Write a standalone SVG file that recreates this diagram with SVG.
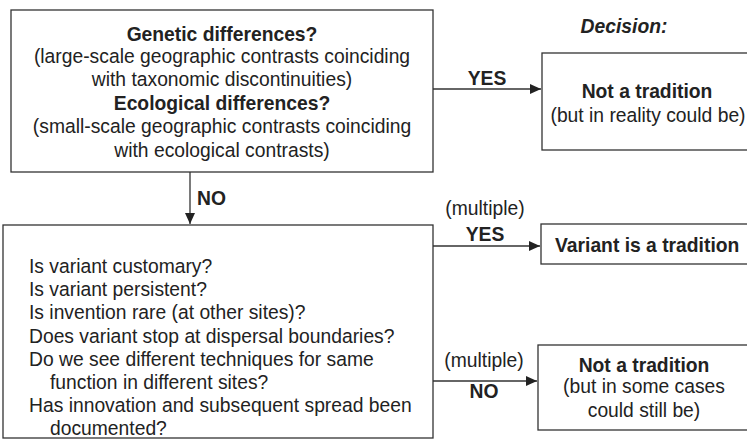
<svg xmlns="http://www.w3.org/2000/svg" width="747" height="440" viewBox="0 0 747 440">
<style>
  .box { fill: #fff; stroke: #333; stroke-width: 1.3; }
  .t { font-family: "Liberation Sans", Arial, sans-serif; font-size: 19.3px; fill: #222; }
  .b { font-weight: bold; }
  .c { text-anchor: middle; }
  .edge { stroke: #333; stroke-width: 1.3; fill: none; }
</style>
<defs>
  <marker id="arr" markerWidth="12" markerHeight="10" refX="11" refY="5" orient="auto" markerUnits="userSpaceOnUse">
    <path d="M0,0 L11,5 L0,10 Z" fill="#222"/>
  </marker>
</defs>
<rect width="747" height="440" fill="#fff"/>

<text class="t b" x="624" y="33" text-anchor="middle" font-style="italic">Decision:</text>

<g id="connectors">
  <line class="edge" x1="433" y1="89" x2="541" y2="89" marker-end="url(#arr)"/>
  <text class="t b c" x="487" y="85">YES</text>
  <line class="edge" x1="190" y1="172" x2="190" y2="224" marker-end="url(#arr)"/>
  <text class="t b" x="197" y="205">NO</text>
  <line class="edge" x1="433" y1="246" x2="540" y2="246" marker-end="url(#arr)"/>
  <text class="t c" x="485" y="215">(multiple)</text>
  <text class="t b c" x="485" y="241">YES</text>
  <line class="edge" x1="433" y1="381" x2="537" y2="381" marker-end="url(#arr)"/>
  <text class="t c" x="484" y="367">(multiple)</text>
  <text class="t b c" x="484" y="398">NO</text>
</g>

<g id="question1">
  <rect class="box" x="11" y="10" width="422" height="162"/>
  <text class="t b c" x="222" y="41">Genetic differences?</text>
  <text class="t c" x="222" y="63">(large-scale geographic contrasts coinciding</text>
  <text class="t c" x="222" y="86">with taxonomic discontinuities)</text>
  <text class="t b c" x="222" y="110">Ecological differences?</text>
  <text class="t c" x="222" y="133">(small-scale geographic contrasts coinciding</text>
  <text class="t c" x="222" y="157">with ecological contrasts)</text>
</g>

<g id="decision1">
  <rect class="box" x="542" y="53" width="210" height="97"/>
  <text class="t b c" x="647" y="98">Not a tradition</text>
  <text class="t c" x="648" y="122">(but in reality could be)</text>
</g>

<g id="question2">
  <rect class="box" x="3" y="225" width="430" height="213"/>
  <text class="t" x="29" y="273">Is variant customary?</text>
  <text class="t" x="29" y="296">Is variant persistent?</text>
  <text class="t" x="29" y="319">Is invention rare (at other sites)?</text>
  <text class="t" x="29" y="343">Does variant stop at dispersal boundaries?</text>
  <text class="t" x="29" y="366">Do we see different techniques for same</text>
  <text class="t" x="50" y="389">function in different sites?</text>
  <text class="t" x="29" y="412">Has innovation and subsequent spread been</text>
  <text class="t" x="50" y="435">documented?</text>
</g>

<g id="decision2">
  <rect class="box" x="541" y="224" width="211" height="40"/>
  <text class="t b" x="555" y="252" font-size="19.5px">Variant is a tradition</text>
</g>

<g id="decision3">
  <rect class="box" x="538" y="345" width="214" height="85"/>
  <text class="t b c" x="644" y="372">Not a tradition</text>
  <text class="t c" x="644" y="393">(but in some cases</text>
  <text class="t c" x="644" y="417">could still be)</text>
</g>
</svg>
